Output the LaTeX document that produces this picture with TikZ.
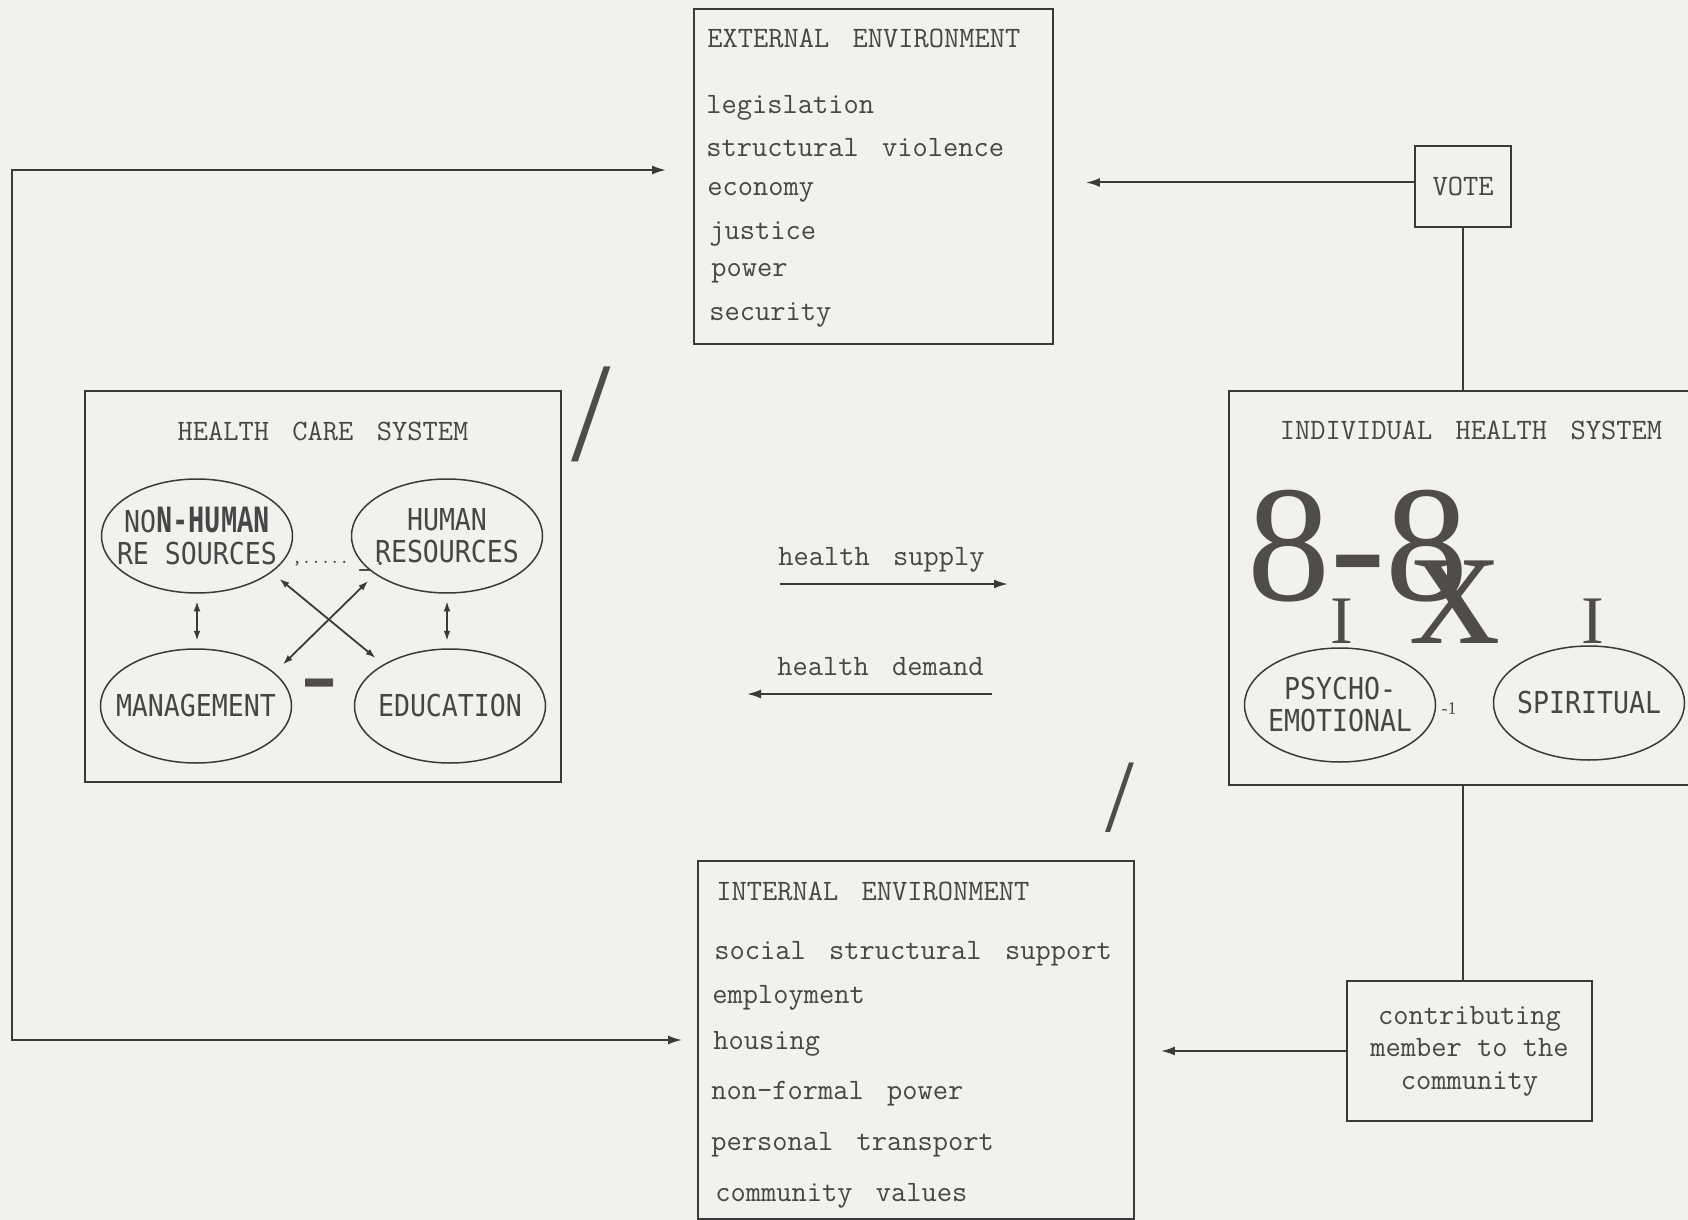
\documentclass[tikz,border=0pt]{standalone}
\usepackage{fontspec}
\usetikzlibrary{arrows.meta,shapes.geometric}
\newfontfamily\ovalfont{DejaVu Sans Mono}[FakeStretch=0.88]
\newfontfamily\ovalbold{Liberation Mono}[FakeStretch=0.7]
\newfontfamily\scanfont{Liberation Serif}
\definecolor{paper}{RGB}{241,241,238}
\definecolor{ink}{RGB}{58,58,58}
\definecolor{type}{RGB}{70,70,70}
\definecolor{blot}{RGB}{80,76,76}
\def\px{0.5pt}
\def\ovalw{191}
\def\ovalh{114}
\newcommand{\wsp}{\hspace{0.79em}}
\newcommand{\partnode}[4]{\node[ovalpart] (#3) at (#1,#2) {};
	\node[ovaltext] (#3t) at (#3) {#4}; }
\tikzset{
	hd/.tip={Latex[length=7pt,width=4.5pt]},
	sm/.tip={Latex[length=5pt,width=3.4pt]},
	sysbox/.style={draw=ink,line width=0.9pt,inner sep=0pt},
	ovalpart/.style={ellipse,draw=ink,line width=0.75pt,minimum width=\ovalw*\px,minimum height=\ovalh*\px,inner sep=0pt},
	ovaltext/.style={font=\ovalfont\fontsize{15.1pt}{16pt}\selectfont,text=type,align=center,inner sep=0pt},
	typed/.style={font=\ttfamily\fontsize{14.8pt}{16.25pt}\selectfont,text=type,inner sep=0pt},
	item/.style={typed,anchor=base west},
	wire/.style={draw=ink,line width=1pt},
	arr/.style={wire,-hd},
	twoway/.style={draw=ink,line width=0.9pt,sm-sm},
	blotch/.style={text=blot,inner sep=0pt}
}
\begin{document}
\begin{tikzpicture}[x=\px,y=-\px]
	\fill[paper] (0,0) rectangle (1688,1220);
	\useasboundingbox (0,0) rectangle (1688,1220);

	% boxes
	\node[sysbox,minimum width=359*\px,minimum height=335*\px] (ext) at (873.5,176.5) {};
	\node[sysbox,minimum width=436*\px,minimum height=358*\px] (int) at (916,1040) {};
	\node[sysbox,minimum width=476*\px,minimum height=391*\px] (hcs) at (323,586.5) {};
	\node[sysbox,minimum width=471*\px,minimum height=394*\px] (ind) at (1464.5,588) {};
	\node[sysbox,typed,minimum width=96*\px,minimum height=81*\px] (vote) at (1463,186.5) {VOTE};
	\node[sysbox,typed,align=center,minimum width=245*\px,minimum height=140*\px] (contrib) at (1469.5,1051) {contributing\\member to the\\community};

	% external environment
	\node[item] (exttitle) at (707,48) {EXTERNAL\wsp ENVIRONMENT};
	\foreach \x/\y/\txt [count=\i] in {706/114/legislation,706/156/structural\wsp violence,707/196/economy,709/239/justice,711/276/power,709/320/security}
		\node[item] (ext\i) at (\x,\y) {\txt};

	% internal environment
	\node[item] (inttitle) at (716,900) {INTERNAL\wsp ENVIRONMENT};
	\foreach \x/\y/\txt [count=\i] in {714/959/social\wsp structural\wsp support,712/1003/employment,713/1049/housing,711/1099/non-formal\wsp power,711/1150/personal\wsp transport,715/1201/community\wsp values}
		\node[item] (int\i) at (\x,\y) {\txt};

	% health care system
	\node[typed] (hcstitle) at (323,431) {HEALTH\wsp CARE\wsp SYSTEM};
	\partnode{197}{536}{nh}{NO{\ovalbold\fontsize{19.3pt}{16pt}\selectfont\bfseries N-HUMAN}\\RE SOURCES}
	\partnode{447}{536}{hr}{HUMAN\\RESOURCES}
	\partnode{196}{706}{mg}{MANAGEMENT}
	\partnode{450}{706}{ed}{EDUCATION}
	\node[typed,font=\ttfamily\fontsize{9pt}{9pt}\selectfont,anchor=base west] (dots) at (292,563) {,.....};
	\node[item] (dotsend) at (357,565) {\_.};
	\node[blotch,font=\scanfont\fontsize{54pt}{54pt}\selectfont,anchor=base west] (bar) at (301,708) {-};

	\draw[twoway,shorten <=3.75pt,shorten >=3.75pt] (nh.south) -- (nh.south |- mg.north);
	\draw[twoway,shorten <=3.75pt,shorten >=3.75pt] (hr.south) -- (hr.south |- ed.north);
	\draw[twoway,shorten <=5pt,shorten >=5pt] (nh.-26) -- (ed.148.5);
	\draw[twoway,shorten <=4.75pt,shorten >=5.8pt] (hr.-152.3) -- (mg.23.4);

	% individual health system
	\node[typed] (indtitle) at (1471,430) {INDIVIDUAL\wsp HEALTH\wsp SYSTEM};
	\partnode{1340}{705}{pe}{PSYCHO-\\EMOTIONAL}
	\partnode{1589}{703}{sp}{SPIRITUAL}
	\node[blotch,font=\scanfont\fontsize{83pt}{83pt}\selectfont,anchor=base west] (eights) at (1247,600) {8-8};
	\node[blotch,font=\scanfont\fontsize{90pt}{90pt}\selectfont,anchor=base west] (ex) at (1410,643) {x};
	\node[blotch,font=\scanfont\fontsize{34pt}{34pt}\selectfont,anchor=base] (tickl) at (1342,643) {I};
	\node[blotch,font=\scanfont\fontsize{34pt}{34pt}\selectfont,anchor=base] (tickr) at (1593,643) {I};
	\node[blotch,font=\scanfont\fontsize{9pt}{9pt}\selectfont] (minusone) at (1449,709) {-1};

	% stray strokes
	\node[blotch,font=\scanfont\fontsize{71pt}{71pt}\selectfont] (slashl) at (591.5,414) {/};
	\node[blotch,font=\scanfont\fontsize{52pt}{52pt}\selectfont] (slashr) at (1120,798) {/};

	% supply and demand
	\node[item] (supply) at (778,565) {health\wsp supply};
	\node[item] (demand) at (777,675) {health\wsp demand};
	\coordinate (supplyL) at (780,584);
	\coordinate (supplyR) at (1008,584);
	\coordinate (demandR) at (992,694);
	\coordinate (demandL) at (747,694);
	\draw[arr] (supplyL) -- (supplyR);
	\draw[arr] (demandR) -- (demandL);

	% connectors
	\coordinate (loopcorner) at (12,170);
	\coordinate (voteout) at ([yshift=2pt]vote.west);
	\draw[wire,hd-hd,shorten <=7.5pt,shorten >=13.5pt] (int.west) -| (loopcorner) |- (ext.west |- loopcorner);
	\draw[arr,shorten >=16pt] (voteout) -- (ext.east |- voteout);
	\draw[wire] (vote.south) -- (vote.south |- ind.north);
	\draw[wire] (ind.south -| vote) -- (contrib.north -| vote);
	\draw[arr,shorten >=13pt] (contrib.west) -- (int.east |- contrib.west);
\end{tikzpicture}
\end{document}
